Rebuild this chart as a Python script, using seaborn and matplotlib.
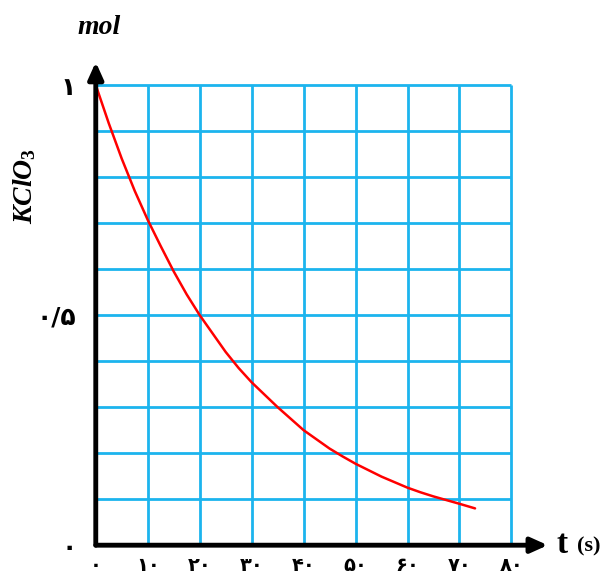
import numpy as np
import pandas as pd
import seaborn as sns
import matplotlib.pyplot as plt

# values
t_s = [0, 2.5, 5, 7.5, 10, 12.5, 15, 17.5, 20, 22.5, 25, 27.5, 30, 32.5, 35,
       37.5, 40, 42.5, 45, 47.5, 50, 52.5, 55, 57.5, 60, 62.5, 65, 67.5, 70, 73]
kclo3_mol = [1.0, 0.917, 0.84, 0.77, 0.707, 0.65, 0.595, 0.545, 0.5, 0.46,
             0.42, 0.385, 0.354, 0.327, 0.30, 0.275, 0.25, 0.23, 0.21, 0.193,
             0.177, 0.163, 0.149, 0.137, 0.125, 0.115, 0.106, 0.098, 0.09, 0.08]

x_ticks = [0, 10, 20, 30, 40, 50, 60, 70, 80]
x_labels = ["۰", "۱۰", "۲۰", "۳۰", "۴۰", "۵۰", "۶۰", "۷۰", "۸۰"]
y_ticks = [0, 0.5, 1]
y_labels = ["۰", "۰/۵", "۱"]
x_grid = [10, 20, 30, 40, 50, 60, 70, 80]
y_grid = [0.1, 0.2, 0.3, 0.4, 0.5, 0.6, 0.7, 0.8, 0.9, 1.0]

sns.set_style("white")
plt.rcParams['font.family'] = ['DejaVu Sans']
plt.rcParams['text.color'] = 'black'
plt.rcParams['xtick.color'] = 'black'
plt.rcParams['ytick.color'] = 'black'
plt.rcParams['mathtext.fontset'] = 'custom'
plt.rcParams['mathtext.it'] = 'Liberation Serif:italic:bold'
plt.rcParams['mathtext.rm'] = 'Liberation Serif:bold'

fig = plt.figure(figsize=(6.1, 5.8), dpi=100)
ax = fig.add_axes([0.157, 0.060, 0.741, 0.833])

grid_c = "#1cb4ee"
ax.vlines(x_grid, 0, 1.0, color=grid_c, lw=2, zorder=1)
ax.hlines(y_grid, 0, 80, color=grid_c, lw=2, zorder=1)

df = pd.DataFrame({"t": t_s, "mol": kclo3_mol})
sns.lineplot(data=df, x="t", y="mol", color="red", lw=1.8, ax=ax, zorder=3)

ax.set_xlim(0, 87)
ax.set_ylim(0, 1.05)
for s in ax.spines.values():
    s.set_visible(False)

# axes with arrow heads
ax.annotate("", xy=(1.0, 0), xytext=(0, 0), xycoords="axes fraction",
            arrowprops=dict(arrowstyle="-|>,head_length=1.0,head_width=0.45",
                            color="black", lw=3.5, shrinkA=0, shrinkB=0), zorder=4)
ax.annotate("", xy=(0, 1.0), xytext=(0, 0), xycoords="axes fraction",
            arrowprops=dict(arrowstyle="-|>,head_length=1.0,head_width=0.45",
                            color="black", lw=3.5, shrinkA=0, shrinkB=0), zorder=4)

ax.set_xticks(x_ticks)
ax.set_xticklabels(x_labels, fontsize=14, fontweight="bold")
ax.set_yticks(y_ticks)
ax.set_yticklabels(y_labels, fontsize=18, fontweight="bold")
ax.tick_params(axis="x", length=0, pad=8)
ax.tick_params(axis="y", length=0, pad=14)
ax.set_xlabel("")
ax.set_ylabel("")

fig.text(0.04, 0.68, r"$KClO_3$", rotation=90, fontsize=20,
         ha="center", va="center")
fig.text(0.162, 0.953, "mol", fontsize=20, fontweight="bold", style="italic",
         family="Liberation Serif", ha="center", va="center")
fig.text(0.913, 0.062, "t", fontsize=24, fontweight="bold",
         family="Liberation Serif", ha="left", va="center")
fig.text(0.946, 0.058, "(s)", fontsize=16, fontweight="bold",
         family="Liberation Serif", ha="left", va="center")

fig.savefig("out.png", dpi=100, facecolor="white")
